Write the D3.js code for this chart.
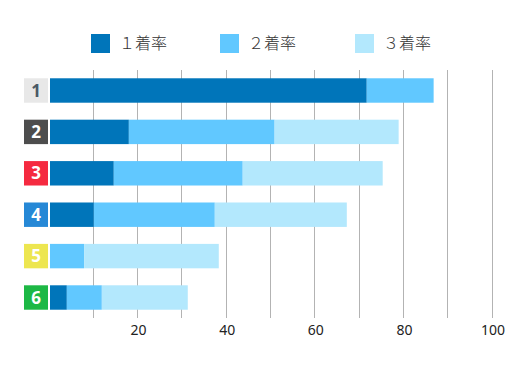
<!DOCTYPE html>
<html>
<head>
<meta charset="utf-8">
<script src="https://cdn.jsdelivr.net/npm/d3@7"></script>
<style>
  body { margin: 0; background: #fff; }
  text { font-family: "Noto Sans CJK JP", "Noto Sans", sans-serif; }
</style>
</head>
<body>
<div id="chart"></div>
<script>
const lanes = ['1', '2', '3', '4', '5', '6'];
const seriesNames = ['１着率', '２着率', '３着率'];
// rates per lane (%), not cumulative
const first = [71.5, 17.8, 14.4, 9.9, 0, 3.8];
const second = [15.1, 32.9, 29.1, 27.3, 7.7, 7.9];
const third = [0, 28.0, 31.6, 29.8, 30.4, 19.4];
const ticks = [10, 20, 30, 40, 50, 60, 70, 80, 90, 100];
const tickLabels = [20, 40, 60, 80, 100];

const colors = ['#0075ba', '#61c8ff', '#b3e8fd'];
const laneFill = ['#e8e8e8', '#4d4d4d', '#f52a40', '#2688d6', '#ede650', '#1db845'];
const laneText = ['#4b5966', '#fff', '#fff', '#fff', '#fff', '#fff'];

const width = 530, height = 365;

const svg = d3.select('#chart')
  .append('svg')
  .attr('width', width)
  .attr('height', height);

const x = d3.scaleLinear()
  .domain([0, 100])
  .range([49.5, 492.5]);

const y = d3.scaleBand()
  .domain(lanes)
  .range([70, 318])
  .paddingInner(0.41)
  .paddingOuter(0.2);

// gridlines
svg.append('g')
  .selectAll('line')
  .data(ticks)
  .enter()
  .append('line')
  .attr('x1', d => Math.round(x(d)) - 0.5)
  .attr('x2', d => Math.round(x(d)) - 0.5)
  .attr('y1', 70)
  .attr('y2', 318)
  .attr('stroke', '#b3b3b3')
  .attr('stroke-width', 1);

// axis labels
const axis = svg.append('g')
  .attr('transform', 'translate(0,318)')
  .call(d3.axisBottom(x).tickValues(tickLabels).tickSize(0).tickPadding(7));
axis.select('.domain').remove();
axis.selectAll('text')
  .attr('fill', '#222')
  .style('font-size', '14px')
  .style('font-family', '"Noto Sans", sans-serif');

// stacked bars
const stackData = lanes.map((lane, i) => ({ lane, a: first[i], b: second[i], c: third[i] }));
const stack = d3.stack().keys(['a', 'b', 'c'])(stackData);

svg.append('g')
  .selectAll('g')
  .data(stack)
  .enter()
  .append('g')
  .attr('fill', (d, i) => colors[i])
  .selectAll('rect')
  .data(d => d)
  .enter()
  .append('rect')
  .attr('x', d => x(d[0]) + 0.5)
  .attr('y', d => y(d.data.lane))
  .attr('width', d => Math.max(0, x(d[1]) - x(d[0])))
  .attr('height', y.bandwidth());

// lane number boxes
const lab = svg.append('g')
  .selectAll('g')
  .data(lanes)
  .enter()
  .append('g')
  .attr('transform', d => `translate(24,${y(d)})`);

lab.append('rect')
  .attr('width', 24)
  .attr('height', y.bandwidth())
  .attr('fill', (d, i) => laneFill[i]);

lab.append('text')
  .attr('x', 12)
  .attr('y', y.bandwidth() / 2)
  .attr('dy', '0.36em')
  .attr('text-anchor', 'middle')
  .attr('fill', (d, i) => laneText[i])
  .style('font-size', '17px')
  .style('font-weight', 'bold')
  .style('font-family', '"Noto Sans", sans-serif')
  .text(d => d);

// legend
const legendX = [91, 220, 355];
const legend = svg.append('g')
  .selectAll('g')
  .data(seriesNames)
  .enter()
  .append('g')
  .attr('transform', (d, i) => `translate(${legendX[i]},34)`);

legend.append('rect')
  .attr('width', 19)
  .attr('height', 19)
  .attr('fill', (d, i) => colors[i]);

legend.append('text')
  .attr('x', 28)
  .attr('y', 9.5)
  .attr('dy', '0.36em')
  .attr('fill', '#333')
  .style('font-size', '16px')
  .style('font-weight', '300')
  .text(d => d);
</script>
</body>
</html>
